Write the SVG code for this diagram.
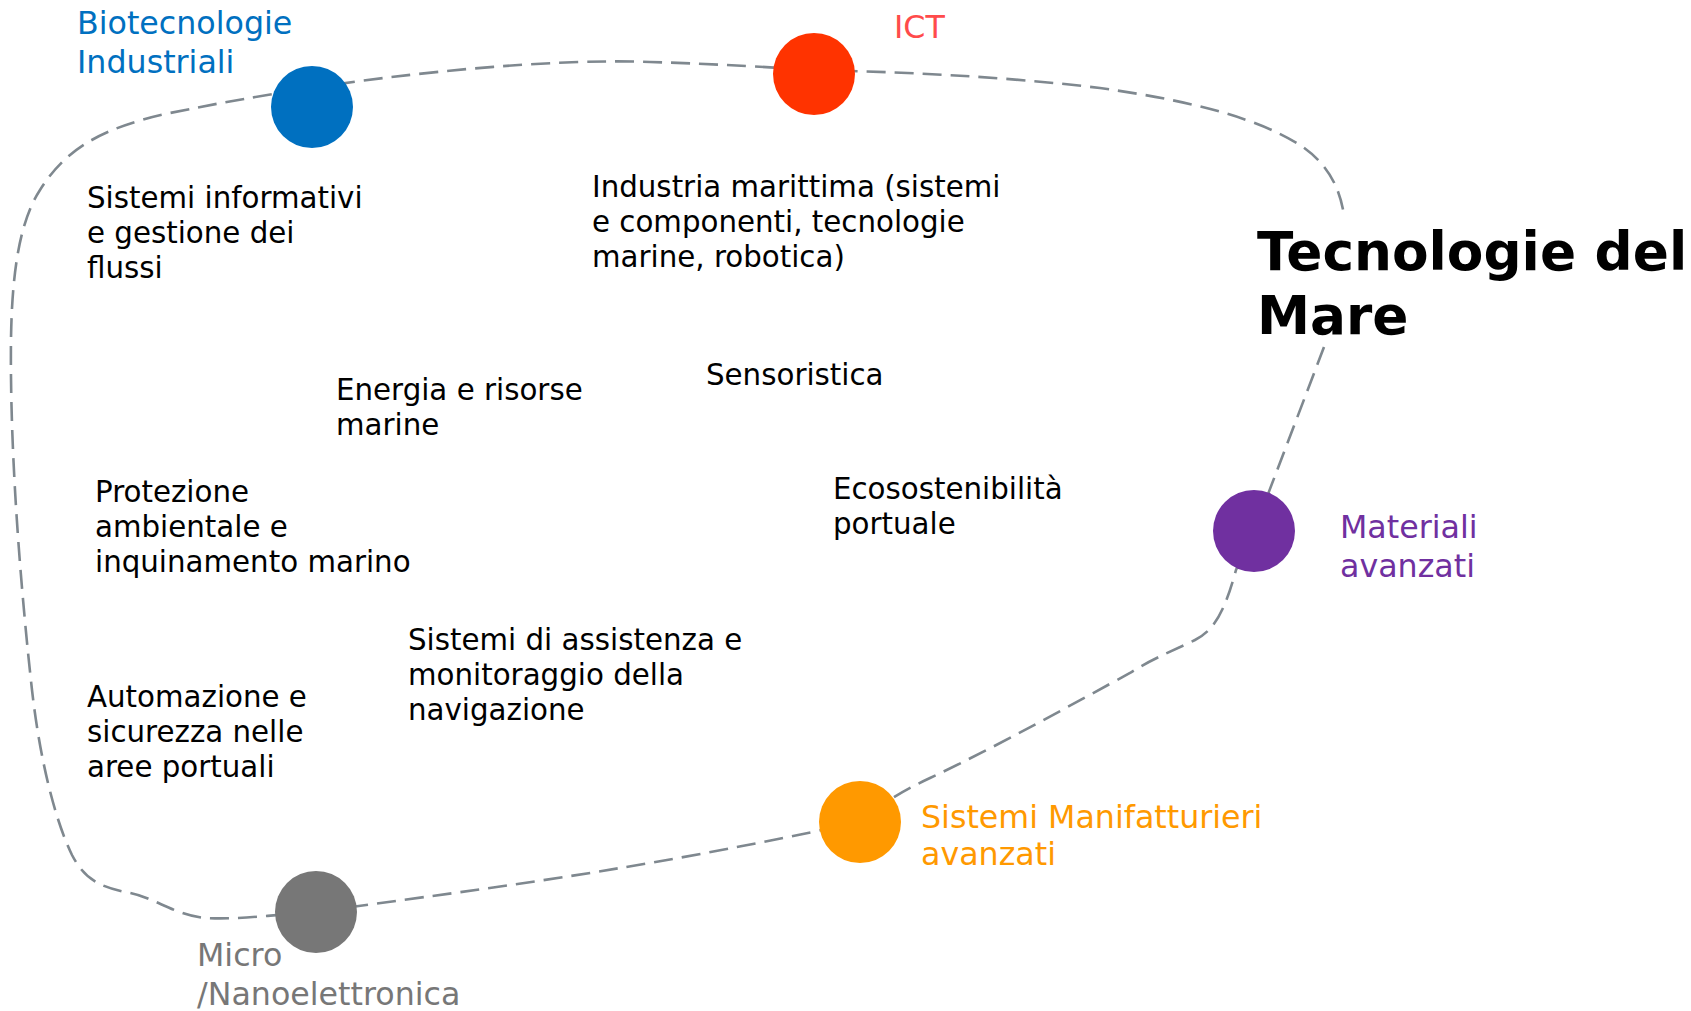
<svg xmlns="http://www.w3.org/2000/svg" width="1691" height="1011" viewBox="0 0 1691 1011">
<style>
text{font-family:"DejaVu Sans","Noto Sans",sans-serif;}
.t{font-size:29.3px;fill:#000;}
.lbl{font-size:31.7px;}
.title{font-size:53.3px;font-weight:bold;fill:#000;}
.conn{fill:none;stroke:#7f888f;stroke-width:2.6;stroke-dasharray:19 9;}
</style>
<rect width="1691" height="1011" fill="#fff"/>
<g id="connectors">
<path class="conn" d="M1324,347 L1254,531 L1236,570 C1225,610 1215,630 1195,640 C1170,652 1150,660 1130,673 C1080,700 1000,745 930,778 C900,792 880,805 860,822 C800,835 700,855 620,868 C520,885 400,900 316,912 C280,914 240,920 205,918 C175,915 155,898 130,893 C100,887 85,880 72,855 C55,820 40,760 32,690 C22,600 12,480 11,377 C10,300 14,230 40,190 C65,150 100,128 170,113 C210,105 240,99 312,88 C400,74 550,58 650,62 C720,64 780,68 814,70 C900,72 1000,76 1100,88 C1200,102 1260,120 1300,145 C1330,165 1340,190 1344,215"/>
</g>
<g id="node-biotecnologie">
<circle cx="312" cy="107" r="41" fill="#0070c0"/>
<text class="lbl" fill="#0070c0"><tspan x="77" y="34">Biotecnologie</tspan><tspan x="77" y="73">Industriali</tspan></text>
</g>
<g id="node-ict">
<circle cx="814" cy="74" r="41" fill="#ff3300"/>
<text class="lbl" fill="#ff4b4b" x="894" y="38">ICT</text>
</g>
<g id="node-materiali">
<circle cx="1254" cy="531" r="41" fill="#7030a0"/>
<text class="lbl" fill="#7030a0"><tspan x="1340" y="538">Materiali</tspan><tspan x="1340" y="577">avanzati</tspan></text>
</g>
<g id="node-manifatturieri">
<circle cx="860" cy="822" r="41" fill="#ff9900"/>
<text class="lbl" fill="#ff9900"><tspan x="921" y="828">Sistemi Manifatturieri</tspan><tspan x="921" y="865">avanzati</tspan></text>
</g>
<g id="node-micro">
<circle cx="316" cy="912" r="41" fill="#777777"/>
<text class="lbl" fill="#777777"><tspan x="197" y="966">Micro</tspan><tspan x="197" y="1005">/Nanoelettronica</tspan></text>
</g>
<g id="title">
<text class="title"><tspan x="1257" y="270">Tecnologie del</tspan><tspan x="1257" y="334">Mare</tspan></text>
</g>
<g id="topics">
<text class="t"><tspan x="87" y="208">Sistemi informativi</tspan><tspan x="87" y="243">e gestione dei</tspan><tspan x="87" y="278">flussi</tspan></text>
<text class="t"><tspan x="592" y="197">Industria marittima (sistemi</tspan><tspan x="592" y="232">e componenti, tecnologie</tspan><tspan x="592" y="267">marine, robotica)</tspan></text>
<text class="t"><tspan x="336" y="400">Energia e risorse</tspan><tspan x="336" y="435">marine</tspan></text>
<text class="t" x="706" y="385">Sensoristica</text>
<text class="t"><tspan x="95" y="502">Protezione</tspan><tspan x="95" y="537">ambientale e</tspan><tspan x="95" y="572">inquinamento marino</tspan></text>
<text class="t"><tspan x="833" y="499">Ecosostenibilità</tspan><tspan x="833" y="534">portuale</tspan></text>
<text class="t"><tspan x="408" y="650">Sistemi di assistenza e</tspan><tspan x="408" y="685">monitoraggio della</tspan><tspan x="408" y="720">navigazione</tspan></text>
<text class="t"><tspan x="87" y="707">Automazione e</tspan><tspan x="87" y="742">sicurezza nelle</tspan><tspan x="87" y="777">aree portuali</tspan></text>
</g>
</svg>
